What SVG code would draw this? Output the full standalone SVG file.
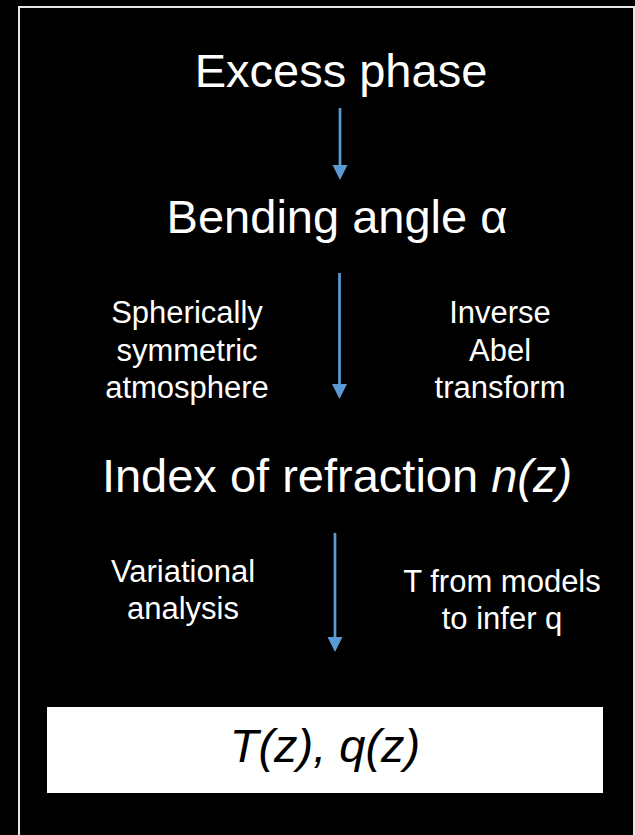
<svg xmlns="http://www.w3.org/2000/svg" width="635" height="835" viewBox="0 0 635 835">
<defs>
<style>
.big{font-family:"Liberation Sans",Arial,sans-serif;font-size:47px;fill:#fff;text-anchor:middle}
.lab{font-family:"Liberation Sans",Arial,sans-serif;font-size:31px;fill:#fff;text-anchor:middle}
.res{font-family:"Liberation Sans",Arial,sans-serif;font-size:47px;font-style:italic;fill:#000;text-anchor:middle}
.conn{stroke:#5b9bd5;stroke-width:2.7;fill:none}
</style>
<marker id="ah" markerUnits="userSpaceOnUse" viewBox="0 -8 16 16" markerWidth="16" markerHeight="16" refX="0" refY="0" orient="auto">
<path d="M0,-7.5 L15,0 L0,7.5 z" fill="#5b9bd5"/>
</marker>
</defs>
<rect width="635" height="835" fill="#000"/>
<rect x="19" y="7" width="615" height="840" fill="none" stroke="#e6e6e6" stroke-width="2"/>
<g id="excess-phase"><text class="big" x="341" y="87">Excess phase</text></g>
<g id="bending-angle"><text class="big" x="337" y="233">Bending angle α</text></g>
<g id="index-refraction"><text class="big" x="337" y="492">Index of refraction <tspan font-style="italic">n(z)</tspan></text></g>
<g id="result"><rect x="47" y="707" width="556" height="86" fill="#fff"/><text class="res" x="325" y="762">T(z), q(z)</text></g>
<g id="label-spherical"><text class="lab" x="187" y="323">Spherically</text><text class="lab" x="187" y="360.5">symmetric</text><text class="lab" x="187" y="398">atmosphere</text></g>
<g id="label-abel"><text class="lab" x="500" y="323">Inverse</text><text class="lab" x="500" y="360.5">Abel</text><text class="lab" x="500" y="398">transform</text></g>
<g id="label-variational"><text class="lab" x="183" y="582">Variational</text><text class="lab" x="183" y="619">analysis</text></g>
<g id="label-tmodels"><text class="lab" x="502" y="592">T from models</text><text class="lab" x="502" y="629">to infer q</text></g>
<g id="connectors">
<line class="conn" x1="340" y1="108" x2="340" y2="165" marker-end="url(#ah)"/>
<line class="conn" x1="339.5" y1="273" x2="339.5" y2="384" marker-end="url(#ah)"/>
<line class="conn" x1="335" y1="533" x2="335" y2="637" marker-end="url(#ah)"/>
</g>
</svg>
